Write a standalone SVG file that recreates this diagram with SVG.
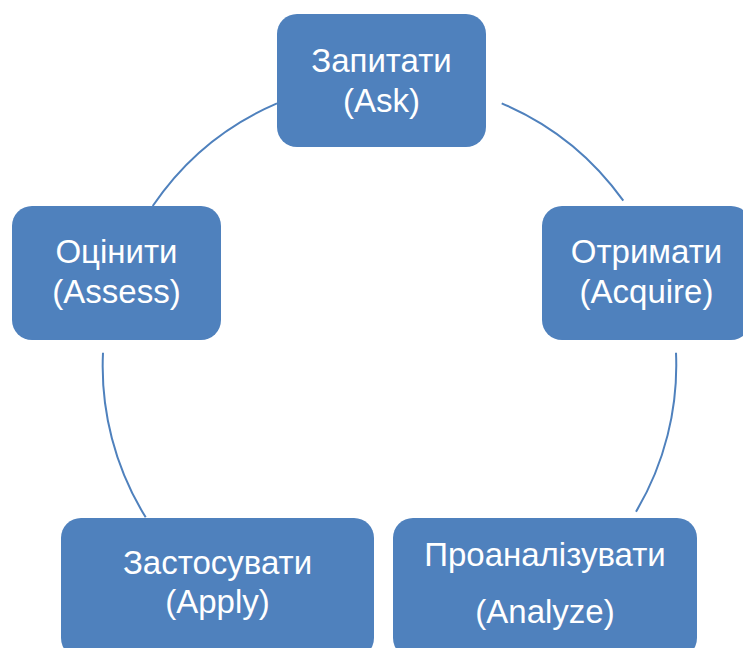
<svg xmlns="http://www.w3.org/2000/svg" width="743" height="648" viewBox="0 0 743 648">
<style>
.node rect{fill:#4F81BD;}
.node text{fill:#FFFFFF;font-family:"Liberation Sans",Arial,sans-serif;font-size:33px;text-anchor:middle;}
.conn path{fill:none;stroke:#4F81BD;stroke-width:2;}
</style>
<rect width="743" height="648" fill="#FFFFFF"/>
<g id="connectors" class="conn">
<path d="M152.7,206 A286.5,286.5 0 0 1 277,103.3"/>
<path d="M501.7,103.3 A286.5,286.5 0 0 1 623.3,200.7"/>
<path d="M676,352.7 A286.5,286.5 0 0 1 636,511.7"/>
<path d="M145.7,517.3 A286.5,286.5 0 0 1 103,352.7"/>
</g>
<g id="ask" class="node">
<rect x="277" y="14" width="209" height="133" rx="20"/>
<text x="381.5" y="72">Запитати</text>
<text x="381.5" y="112">(Ask)</text>
</g>
<g id="acquire" class="node">
<rect x="542" y="206" width="209" height="134" rx="20"/>
<text x="646.5" y="263">Отримати</text>
<text x="646.5" y="303">(Acquire)</text>
</g>
<g id="assess" class="node">
<rect x="12" y="206" width="209" height="134" rx="20"/>
<text x="116.5" y="263">Оцінити</text>
<text x="116.5" y="303">(Assess)</text>
</g>
<g id="apply" class="node">
<rect x="61" y="518" width="313" height="140" rx="20"/>
<text x="217.5" y="574">Застосувати</text>
<text x="217.5" y="613">(Apply)</text>
</g>
<g id="analyze" class="node">
<rect x="393" y="518" width="304" height="140" rx="20"/>
<text x="545" y="566">Проаналізувати</text>
<text x="545" y="623">(Analyze)</text>
</g>
</svg>
